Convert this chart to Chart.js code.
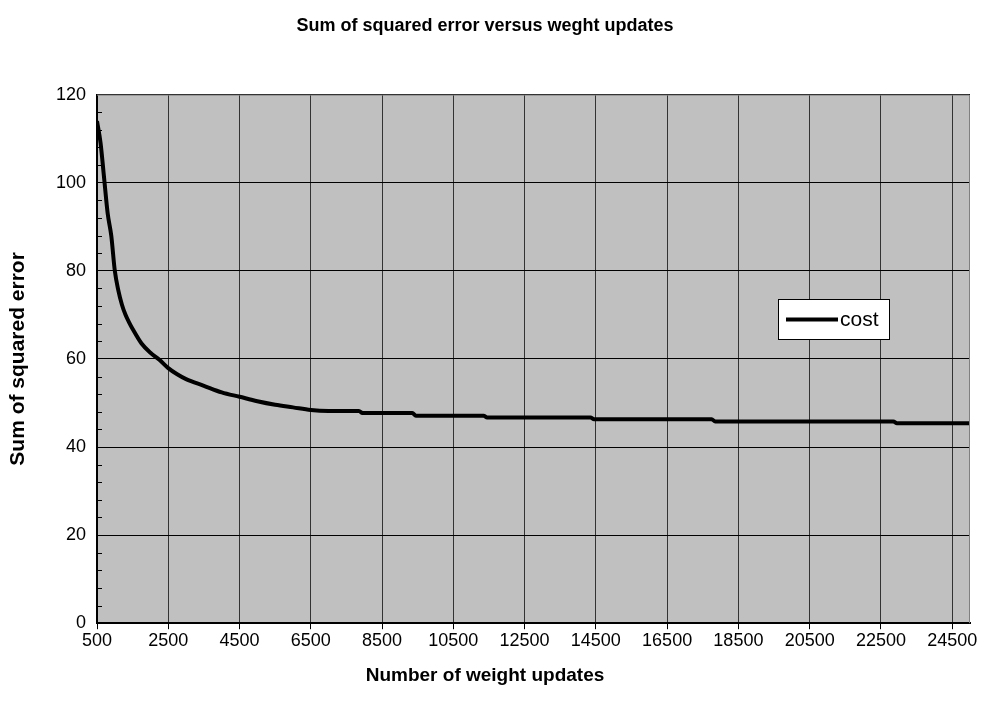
<!DOCTYPE html>
<html>
<head>
<meta charset="utf-8">
<title>Sum of squared error versus weght updates</title>
<script src="https://cdn.jsdelivr.net/npm/chart.js@4.4.1/dist/chart.umd.min.js"></script>
<style>
  html, body { margin: 0; padding: 0; background: #fff; }
  #wrap { width: 987px; height: 713px; }
</style>
</head>
<body>
<div id="wrap"><canvas id="costChart" width="987" height="713"></canvas></div>
<script>
// Datos
const updates = [500, 600, 700, 800, 900, 1000, 1100, 1200, 1300, 1400, 1500, 1750, 2000, 2250, 2500, 2750, 3000,
  3500, 4000, 4500, 5000, 5500, 6000, 6500, 7000, 7850, 7950, 9350, 9450, 11350, 11450, 14350, 14450,
  17750, 17850, 22850, 22950, 25000];
const cost = [114, 109, 101, 93, 88, 80, 75.5, 72.3, 70, 68.3, 66.8, 63.5, 61.4, 59.8, 57.9, 56.5, 55.4,
  53.9, 52.4, 51.4, 50.4, 49.6, 49, 48.4, 48.2, 48.2, 47.7, 47.7, 47.1, 47.1, 46.7, 46.7, 46.3,
  46.3, 45.8, 45.8, 45.4, 45.4];
const xTicks = [500, 2500, 4500, 6500, 8500, 10500, 12500, 14500, 16500, 18500, 20500, 22500, 24500];
const yTicks = [0, 20, 40, 60, 80, 100, 120];
const yMinorStep = 4;

const FONT = 'Arial, "Liberation Sans", sans-serif';

// Fondo gris del area de trazado
const plotBackground = {
  id: 'plotBackground',
  beforeDraw(chart) {
    const { ctx, chartArea: a } = chart;
    ctx.save();
    ctx.fillStyle = '#C0C0C0';
    ctx.fillRect(a.left, a.top, a.right - a.left, a.bottom - a.top);
    ctx.restore();
  },
  afterDraw(chart) {
    const { ctx, chartArea: a } = chart;
    const y = chart.scales.y;
    ctx.save();
    // borde gris arriba y derecha
    ctx.strokeStyle = '#808080';
    ctx.lineWidth = 1;
    ctx.beginPath();
    ctx.moveTo(a.left, a.top + 0.5);
    ctx.lineTo(a.right - 0.5, a.top + 0.5);
    ctx.lineTo(a.right - 0.5, a.bottom);
    ctx.stroke();
    // marcas menores del eje Y
    ctx.strokeStyle = '#000';
    for (let v = yTicks[0]; v <= yTicks[yTicks.length - 1]; v += yMinorStep) {
      if (yTicks.includes(v)) continue;
      const py = Math.round(y.getPixelForValue(v)) + 0.5;
      ctx.beginPath();
      ctx.moveTo(a.left, py);
      ctx.lineTo(a.left + 5, py);
      ctx.stroke();
    }
    ctx.restore();
  }
};

// Leyenda dentro del grafico
const boxLegend = {
  id: 'boxLegend',
  afterDraw(chart) {
    const { ctx } = chart;
    const ds = chart.data.datasets[0];
    const x0 = 778, y0 = 299, w = 111, h = 40;
    ctx.save();
    ctx.fillStyle = '#fff';
    ctx.fillRect(x0, y0, w, h);
    ctx.strokeStyle = '#000';
    ctx.lineWidth = 1;
    ctx.strokeRect(x0 + 0.5, y0 + 0.5, w, h);
    ctx.strokeStyle = ds.borderColor;
    ctx.lineWidth = 4;
    ctx.beginPath();
    ctx.moveTo(x0 + 8, y0 + h / 2 + 0.5);
    ctx.lineTo(x0 + 60, y0 + h / 2 + 0.5);
    ctx.stroke();
    ctx.fillStyle = '#000';
    ctx.font = '21px ' + FONT;
    ctx.textBaseline = 'middle';
    ctx.fillText(ds.label, x0 + 62, y0 + h / 2 + 1);
    ctx.restore();
  }
};

const ctx = document.getElementById('costChart').getContext('2d');

new Chart(ctx, {
  type: 'line',
  data: {
    datasets: [{
      label: 'cost',
      data: updates.map((u, i) => ({ x: u, y: cost[i] })),
      borderColor: '#000',
      borderWidth: 4,
      pointRadius: 0,
      fill: false,
      cubicInterpolationMode: 'monotone'
    }]
  },
  options: {
    responsive: false,
    animation: false,
    layout: { padding: { left: 0, right: 17, top: 0, bottom: 0 } },
    plugins: {
      legend: { display: false },
      tooltip: { enabled: false },
      title: {
        display: true,
        text: 'Sum of squared error versus weght updates',
        color: '#000',
        font: { family: FONT, size: 18, weight: 'bold' },
        padding: { top: 15, bottom: 58 }
      },
      // titulo del eje X centrado en todo el lienzo, como el original
      subtitle: {
        display: true,
        position: 'bottom',
        text: 'Number of weight updates',
        color: '#000',
        font: { family: FONT, size: 19, weight: 'bold' },
        padding: { top: 11, bottom: 26 }
      }
    },
    scales: {
      x: {
        type: 'linear',
        min: 500,
        max: 25000,
        afterBuildTicks: scale => { scale.ticks = xTicks.map(v => ({ value: v })); },
        afterFit: scale => { scale.height = 30; },
        grid: {
          color: '#333',
          lineWidth: 1,
          drawTicks: true,
          tickLength: 6,
          tickColor: '#000'
        },
        border: { color: '#000', width: 2 },
        ticks: {
          color: '#000',
          font: { family: FONT, size: 18 },
          padding: 1,
          maxRotation: 0,
          autoSkip: false,
          callback: v => String(v)
        }
      },
      y: {
        min: 0,
        max: 120,
        afterBuildTicks: scale => { scale.ticks = yTicks.map(v => ({ value: v })); },
        afterFit: scale => { scale.width = 97; },
        grid: {
          color: '#000',
          lineWidth: 1,
          drawTicks: false
        },
        border: { color: '#000', width: 2 },
        ticks: {
          color: '#000',
          font: { family: FONT, size: 18 },
          padding: 11
        },
        title: {
          display: true,
          text: 'Sum of squared error',
          color: '#000',
          font: { family: FONT, size: 21, weight: 'bold' },
          padding: { top: 6, bottom: 6 }
        }
      }
    }
  },
  plugins: [plotBackground, boxLegend]
});
</script>
</body>
</html>
